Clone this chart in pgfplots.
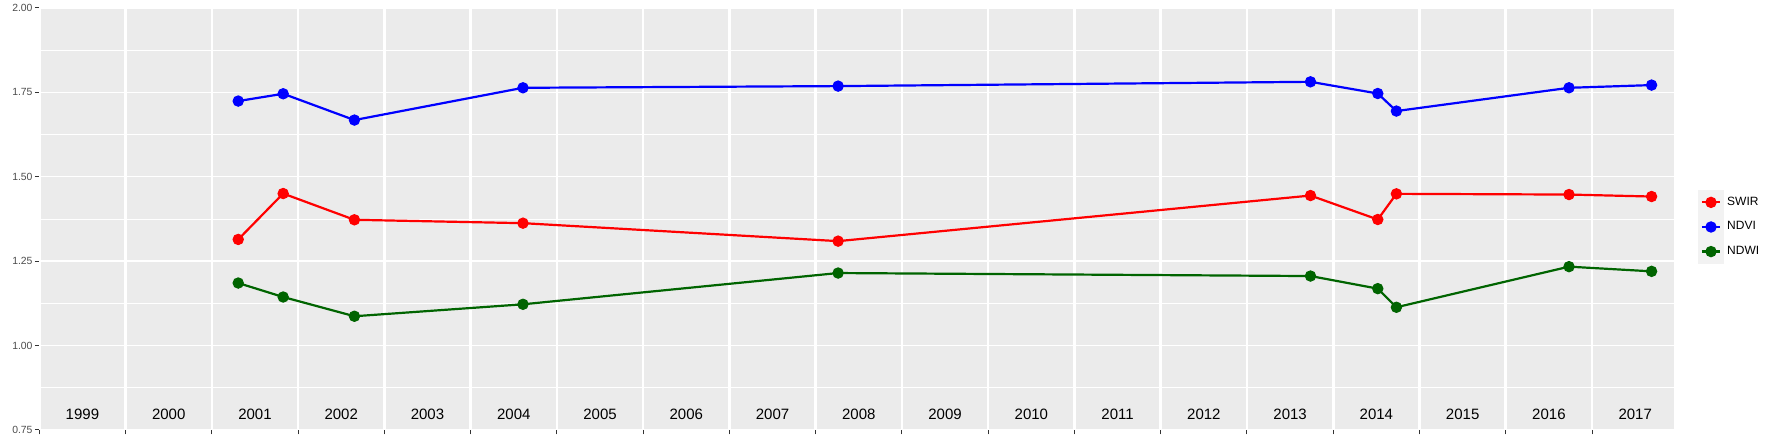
\documentclass[border=0pt]{standalone}
\usepackage{pgfplots}
\pgfplotsset{compat=1.18}
\usepackage{fontspec}
\setmainfont{Liberation Sans}
\definecolor{swir}{RGB}{255,0,0}
\definecolor{ndvi}{RGB}{0,0,255}
\definecolor{ndwi}{RGB}{0,100,0}
\begin{document}
\begin{tikzpicture}
\begin{axis}[
  name=ax,
  scale only axis,
  width=817.35pt, height=211pt,
  xmin=1999.0, xmax=2017.95,
  ymin=0.75, ymax=2.00,
  axis background/.style={fill=black!8},
  axis line style={draw=none},
  xtick={1999,2000,...,2017},
  xticklabels={},
  xticklabel style={inner sep=0pt, outer sep=0pt, font=\fontsize{1}{1}\selectfont},
  ytick={0.75,1.00,1.25,1.50,1.75,2.00},
  minor ytick={0.875,1.125,1.375,1.625,1.875},
  scaled x ticks=false,
  xtick pos=bottom, ytick pos=left,
  tick align=outside,
  major tick length=2.2pt,
  minor tick length=0pt,
  tick style={color=black!80, line width=0.5pt},
  grid=major,
  ymajorgrids, yminorgrids, xmajorgrids,
  x grid style={white, line width=1.3pt},
  y grid style={white, line width=0.7pt},
  minor y grid style={white, line width=0.45pt},
  /pgf/number format/assume math mode=true,
  yticklabel style={font=\fontsize{5.2}{6}\selectfont, color=black!70, inner sep=1pt, /pgf/number format/fixed, /pgf/number format/fixed zerofill, /pgf/number format/precision=2},
  legend style={draw=none, fill=none, at={(1,0.5)}, anchor=west, xshift=12pt, yshift=-4pt,
    font=\fontsize{6}{7}\selectfont, row sep=0pt, column sep=1.8pt, inner sep=0pt,
    nodes={inner sep=0pt}},
  legend cell align=left,
  legend image code/.code={
    \fill[black!5] (0pt,-5.6pt) rectangle (11.5pt,5.6pt);
    \draw[mark repeat=2, mark phase=2, #1] plot coordinates {(1.2pt,0pt) (5.75pt,0pt) (10.3pt,0pt)};
  },
  every axis plot/.append style={line width=1.1pt, mark=*, mark size=2.6pt},
  clip=false,
]
\addplot[color=swir, mark options={fill=swir, draw=swir, line width=0.5pt}] coordinates {
  (2001.306,1.3144) (2001.827,1.4504) (2002.653,1.3726) (2004.607,1.3626)
  (2008.26,1.3094) (2013.736,1.4444) (2014.516,1.3735) (2014.732,1.4495)
  (2016.733,1.4474) (2017.69,1.4415)
};
\addlegendentry{SWIR}
\addplot[color=ndvi, mark options={fill=ndvi, draw=ndvi, line width=0.5pt}] coordinates {
  (2001.306,1.7243) (2001.827,1.7459) (2002.653,1.6680) (2004.607,1.7636)
  (2008.26,1.7686) (2013.736,1.7813) (2014.516,1.7467) (2014.732,1.6947)
  (2016.733,1.7636) (2017.69,1.7716)
};
\addlegendentry{NDVI}
\addplot[color=ndwi, mark options={fill=ndwi, draw=ndwi, line width=0.5pt}] coordinates {
  (2001.306,1.1853) (2001.827,1.1439) (2002.653,1.0869) (2004.607,1.1223)
  (2008.26,1.2149) (2013.736,1.2060) (2014.516,1.1687) (2014.732,1.1135)
  (2016.733,1.2338) (2017.69,1.2199)
};
\addlegendentry{NDWI}
\pgfplotsinvokeforeach{1999,2000,...,2017}{
  \node[font=\fontsize{7.5}{9}\selectfont, text=black, inner sep=0pt] at (axis cs:#1.5,0.797) {#1};
}
\end{axis}
\path ([shift={(-19.65pt,-6pt)}]ax.south west) rectangle ([shift={(49.5pt,4pt)}]ax.north east);
\end{tikzpicture}
\end{document}
